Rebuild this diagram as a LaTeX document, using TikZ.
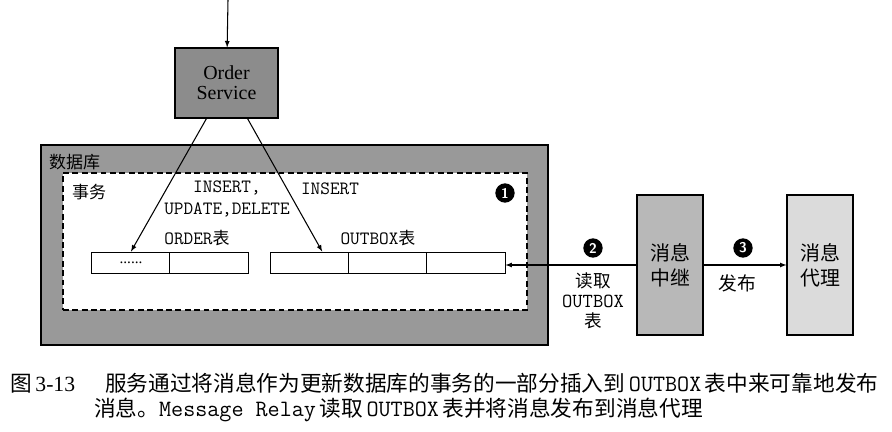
\documentclass[tikz,border=0pt]{standalone}
\usepackage{fontspec}
\setmainfont{Liberation Serif}
\newfontfamily\cjk{Noto Sans CJK SC}
\usetikzlibrary{calc}

\begin{document}
\begin{tikzpicture}[x=0.03cm,y=-0.03cm,
    gbox/.style={draw,line width=0.9pt,inner sep=0pt},
    cell/.style={draw,fill=white,line width=0.8pt,minimum width=2.35cm,minimum height=0.63cm,inner sep=0pt},
    num/.style={circle,fill=black,text=white,inner sep=0pt,minimum size=0.58cm,font=\sffamily\bfseries\fontsize{12}{12}\selectfont},
    code/.style={font=\ttfamily\fontsize{16}{19}\selectfont},
    zh/.style={font=\cjk\fontsize{14.5}{17}\selectfont},
    lbl/.style={font=\fontsize{16}{17}\selectfont}
]
\useasboundingbox (0,0) rectangle (892,432);

% service and database
\node[gbox,fill=black!45,minimum width=3.09cm,minimum height=2.1cm,align=center,
      font=\fontsize{17}{17}\selectfont] (svc) at (226.5,83) {Order\\Service};
\node[gbox,fill=black!40,minimum width=15.21cm,minimum height=6cm] (db) at (294.5,245) {};
\node[draw,fill=white,line width=0.9pt,dash pattern=on 5pt off 3pt,
      minimum width=13.92cm,minimum height=4.11cm] (tx) at (295,241.5) {};
\node[zh,anchor=west] (dblabel) at (45,162) {数据库};
\node[zh,anchor=west] (txlabel) at (68,192) {事务};

% tables
\node[cell,font=\fontsize{13}{13}\selectfont] (oa) at (131,262.5) {......};
\node[cell] (ob) at (209,262.5) {};
\node[cell] (xa) at (309.2,262.5) {};
\node[cell] (xb) at (387.5,262.5) {};
\node[cell] (xc) at (465.8,262.5) {};
\node[lbl] (orderlbl) at (197,238) {{\ttfamily ORDER}{\cjk\fontsize{14.5}{17}\selectfont 表}};
\node[lbl] (outboxlbl) at (378,238) {{\ttfamily OUTBOX}{\cjk\fontsize{14.5}{17}\selectfont 表}};
\node[code,align=center] (updlbl) at (227,199) {INSERT,\\UPDATE,DELETE};
\node[code] (inslbl) at (330,189) {INSERT};

% relay and broker
\node[gbox,fill=black!28,minimum width=1.98cm,minimum height=4.2cm,align=center,
      font=\cjk\fontsize{17}{21.5}\selectfont] (relay) at (670,265) {消息\\中继};
\node[gbox,fill=black!14,minimum width=1.98cm,minimum height=4.2cm,align=center,
      font=\cjk\fontsize{17}{21.5}\selectfont] (broker) at (820,265) {消息\\代理};

\node[num] (n1) at (505,193) {1};
\node[num] (n2) at (593,248) {2};
\node[num] (n3) at (743,248) {3};
\node[align=center,font=\fontsize{15}{17}\selectfont] (readlbl) at (593,301)
    {{\cjk 读取}\\{\ttfamily\fontsize{17}{17}\selectfont OUTBOX}\\{\cjk 表}};
\node[zh,font=\cjk\fontsize{16}{17}\selectfont] (publbl) at (737,283) {发布};

% connectors
\coordinate (entry) at (228,0);
\draw[-latex,line width=0.9pt] (entry) -- (svc);
\draw[-latex,line width=0.9pt] ($(svc.south)+(-20,0)$) -- (oa.north);
\draw[-latex,line width=0.9pt] ($(svc.south)+(21,0)$) -- ($(xa.north)+(13,0)$);
\draw[-latex,line width=0.9pt] (relay.west) -- (relay.west -| xc.east);
\draw[-latex,line width=0.9pt] (relay) -- (broker);

% caption
\node[anchor=west,font=\fontsize{18.5}{22}\selectfont] (cap1) at (6,383)
    {{\cjk 图}\,3-13\hspace{0.9cm}{\cjk 服务通过将消息作为更新数据库的事务的一部分插入到}\,{\ttfamily\fontsize{20}{22}\selectfont OUTBOX}\,{\cjk 表中来可靠地发布}};
\node[anchor=west,font=\fontsize{18.5}{22}\selectfont] (cap2) at (90,410)
    {{\cjk 消息。}{\ttfamily\fontsize{20}{22}\selectfont Message Relay}\,{\cjk 读取}\,{\ttfamily\fontsize{20}{22}\selectfont OUTBOX}\,{\cjk 表并将消息发布到消息代理}};
\end{tikzpicture}
\end{document}
